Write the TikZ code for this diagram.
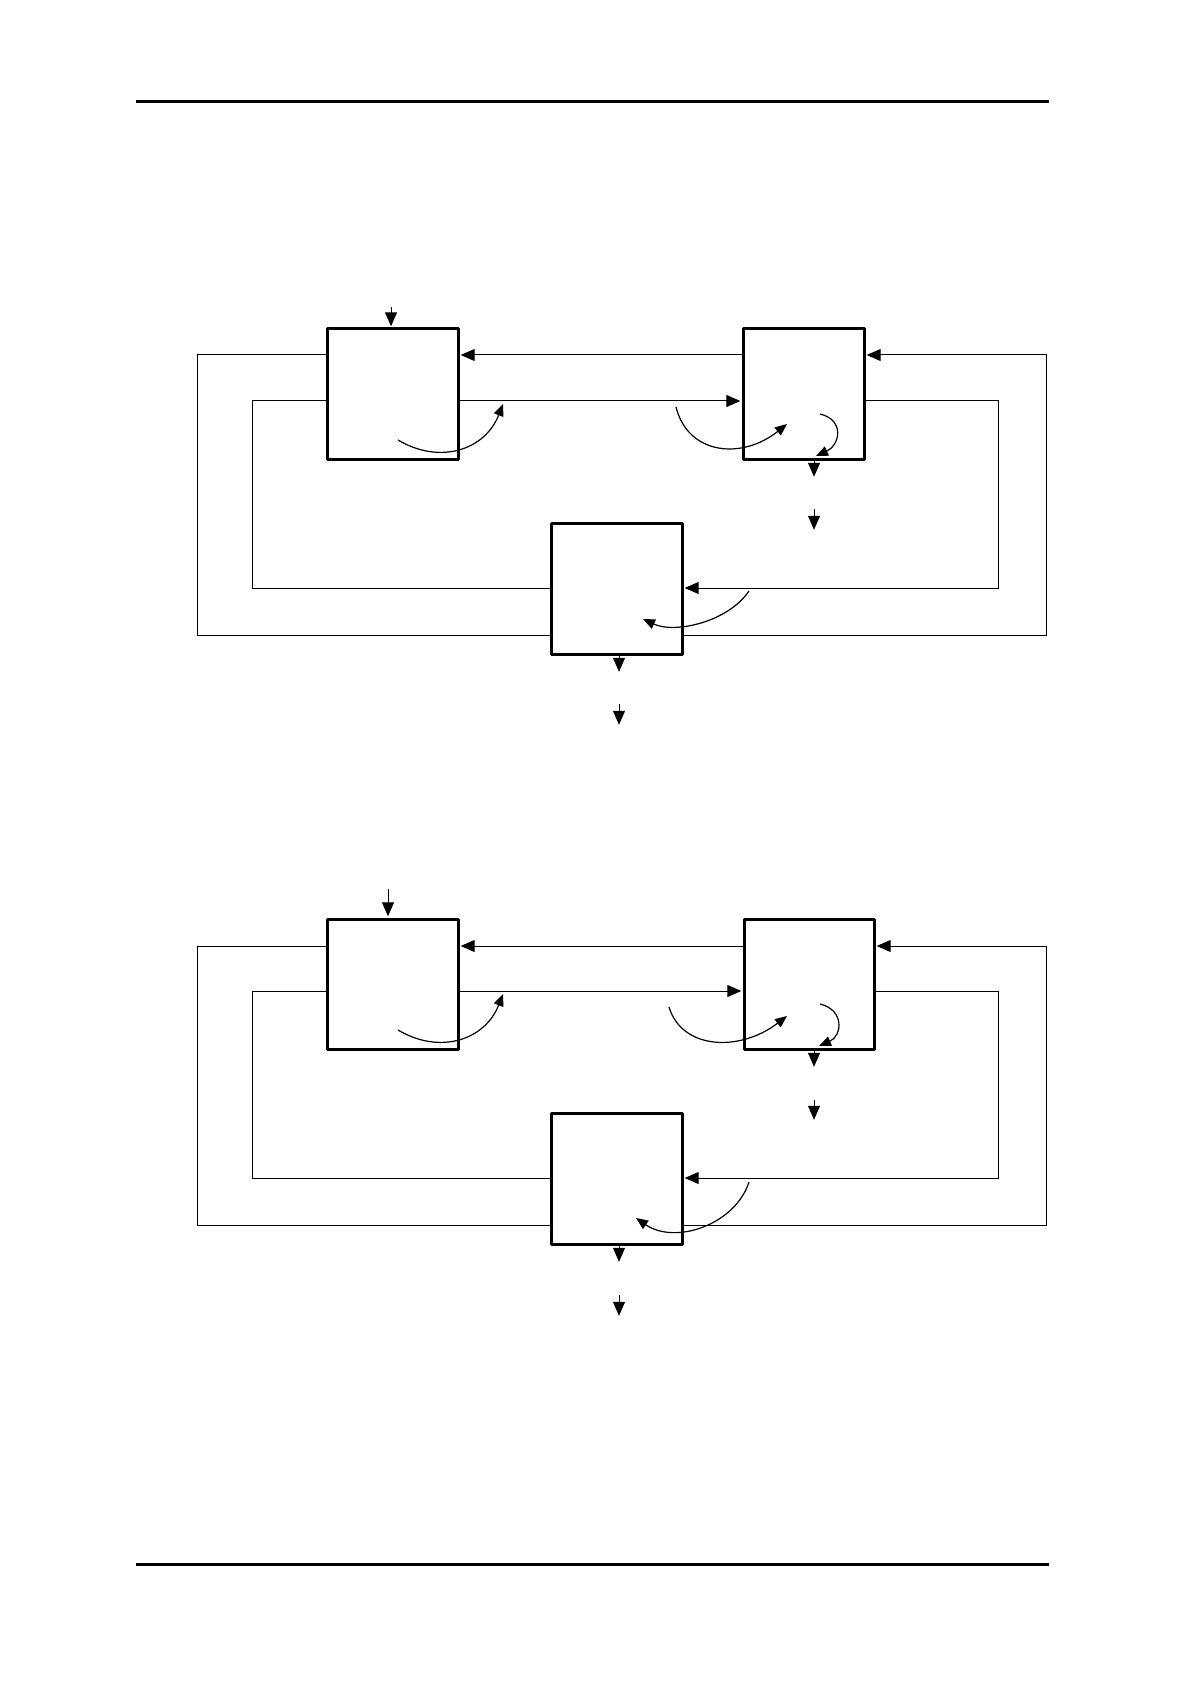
\documentclass[tikz,border=0pt]{standalone}
\usepackage{tikz}
\usetikzlibrary{arrows.meta}

\begin{document}
\begin{tikzpicture}[
        x=0.5pt, y=-0.5pt,
        blk/.style={rectangle, draw, line width=1.5pt, line join=round, minimum width=65.5pt, minimum height=65pt, inner sep=0pt},
        wire/.style={line width=0.5pt},
        arrow/.style={wire, -{Triangle[length=7pt, width=6pt]}, shorten >=0.6pt},
        curvy/.style={line width=0.6pt, -{Triangle[length=6pt, width=5pt]}},
        hrule/.style={line width=1.5pt}
    ]
        \useasboundingbox (0,0) rectangle (1188,1684);
        \draw[hrule] (136,102) -- (1049,102);
        \draw[hrule] (136,1564) -- (1049,1564);

        \node[blk] (p1) at (392.5,394) {};
        \node[blk, minimum width=60.5pt] (p2) at (803.5,394) {};
        \node[blk, minimum height=65.5pt] (p3) at (616.5,588.5) {};
        \coordinate (p-olt) at (197,355);
        \coordinate (p-olb) at (197,635);
        \coordinate (p-ort) at (1046,355);
        \coordinate (p-orb) at (1046,635);
        \coordinate (p-ilt) at (252,401);
        \coordinate (p-ilb) at (252,588);
        \coordinate (p-irt) at (998,401);
        \coordinate (p-irb) at (998,588);
        \coordinate (p-in) at (391,307);
        \coordinate (p2-out) at (814,478);
        \coordinate (p2-a) at (814,509);
        \coordinate (p2-b) at (814,531);
        \coordinate (p3-out) at (619,673);
        \coordinate (p3-a) at (619,704);
        \coordinate (p3-b) at (619,726);
        \draw[arrow] (p2.west |- p-olt) -- (p1.east |- p-olt);
        \draw[wire] (p1.west |- p-olt) -- (p-olt) -- (p-olb) -- (p3.west |- p-olb);
        \draw[arrow] (p3.east |- p-orb) -- (p-orb) -- (p-ort) -- (p2.east |- p-ort);
        \draw[arrow] (p1.east |- p-irt) -- (p2.west |- p-irt);
        \draw[arrow] (p2.east |- p-irt) -- (p-irt) -- (p-irb) -- (p3.east |- p-irb);
        \draw[wire] (p3.west |- p-ilb) -- (p-ilb) -- (p-ilt) -- (p1.west |- p-ilt);
        \draw[arrow] (p-in) -- (p-in |- p1.north);
        \draw[arrow] (p2-out |- p2.south) -- (p2-out);
        \draw[arrow] (p2-a) -- (p2-b);
        \draw[arrow] (p3-out |- p3.south) -- (p3-out);
        \draw[arrow] (p3-a) -- (p3-b);
        \draw[curvy] (398,440) .. controls (440,465) and (485,450) .. (503,404);
        \draw[curvy] (676,407) .. controls (688,455) and (742,460) .. (787,424);
        \draw[curvy] (820,414) .. controls (845,420) and (840,445) .. (816,456);
        \draw[curvy] (749,591) .. controls (728,622) and (675,634) .. (643,619);

        \node[blk] (q1) at (392.5,984) {};
        \node[blk, minimum width=65pt] (q2) at (809,984) {};
        \node[blk, minimum height=65.5pt] (q3) at (616.5,1178.5) {};
        \coordinate (q-olt) at (197,946);
        \coordinate (q-olb) at (197,1225);
        \coordinate (q-ort) at (1046,946);
        \coordinate (q-orb) at (1046,1225);
        \coordinate (q-ilt) at (252,991);
        \coordinate (q-ilb) at (252,1178);
        \coordinate (q-irt) at (998,991);
        \coordinate (q-irb) at (998,1178);
        \coordinate (q-in) at (388,889);
        \coordinate (q2-out) at (814,1068);
        \coordinate (q2-a) at (814,1100);
        \coordinate (q2-b) at (814,1121);
        \coordinate (q3-out) at (619,1263);
        \coordinate (q3-a) at (619,1295);
        \coordinate (q3-b) at (619,1317);
        \draw[arrow] (q2.west |- q-olt) -- (q1.east |- q-olt);
        \draw[wire] (q1.west |- q-olt) -- (q-olt) -- (q-olb) -- (q3.west |- q-olb);
        \draw[arrow] (q3.east |- q-orb) -- (q-orb) -- (q-ort) -- (q2.east |- q-ort);
        \draw[arrow] (q1.east |- q-irt) -- (q2.west |- q-irt);
        \draw[arrow] (q2.east |- q-irt) -- (q-irt) -- (q-irb) -- (q3.east |- q-irb);
        \draw[wire] (q3.west |- q-ilb) -- (q-ilb) -- (q-ilt) -- (q1.west |- q-ilt);
        \draw[arrow] (q-in) -- (q-in |- q1.north);
        \draw[arrow] (q2-out |- q2.south) -- (q2-out);
        \draw[arrow] (q2-a) -- (q2-b);
        \draw[arrow] (q3-out |- q3.south) -- (q3-out);
        \draw[arrow] (q3-a) -- (q3-b);
        \draw[curvy] (398,1030) .. controls (440,1055) and (485,1040) .. (503,994);
        \draw[curvy] (669,1007) .. controls (682,1050) and (740,1052) .. (787,1016);
        \draw[curvy] (820,1004) .. controls (845,1010) and (842,1036) .. (819,1046);
        \draw[curvy] (749,1182) .. controls (735,1225) and (675,1245) .. (636,1218);
    \end{tikzpicture}
\end{document}
